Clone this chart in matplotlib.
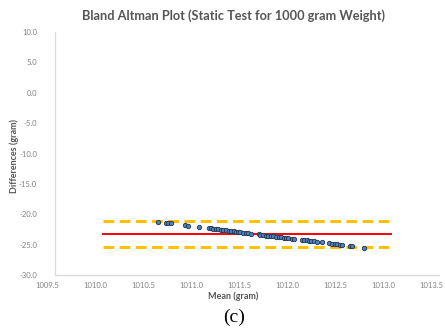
import matplotlib
matplotlib.use("Agg")
import matplotlib.pyplot as plt
from matplotlib.transforms import ScaledTranslation

# Bland-Altman data
mean_vals = [1010.57, 1010.66, 1010.68, 1010.71, 1010.85, 1010.89, 1011.00,
             1011.10, 1011.12, 1011.15, 1011.18, 1011.20, 1011.23, 1011.25,
             1011.28, 1011.31, 1011.33, 1011.36, 1011.39, 1011.41, 1011.43,
             1011.46, 1011.49, 1011.51, 1011.54, 1011.62, 1011.64, 1011.67,
             1011.70, 1011.72, 1011.75, 1011.77, 1011.80, 1011.83, 1011.85,
             1011.88, 1011.91, 1011.93, 1011.97, 1011.99, 1012.07, 1012.09,
             1012.12, 1012.15, 1012.17, 1012.20, 1012.23, 1012.28, 1012.35,
             1012.38, 1012.42, 1012.44, 1012.47, 1012.49, 1012.57, 1012.59,
             1012.72]
diff_vals = [-21.20, -21.38, -21.43, -21.49, -21.77, -21.86, -22.05,
             -22.25, -22.30, -22.36, -22.42, -22.47, -22.53, -22.58,
             -22.64, -22.70, -22.74, -22.80, -22.86, -22.90, -22.94,
             -23.00, -23.06, -23.10, -23.16, -23.32, -23.37, -23.43,
             -23.49, -23.54, -23.60, -23.64, -23.70, -23.76, -23.80,
             -23.86, -23.92, -23.96, -24.04, -24.08, -24.15, -24.20,
             -24.27, -24.33, -24.38, -24.45, -24.50, -24.62, -24.75,
             -24.82, -24.90, -24.95, -25.00, -25.05, -25.20, -25.25,
             -25.55]

bias = -23.25
upper_loa = -21.05
lower_loa = -25.45
line_x = [1010.0, 1013.0]

x_ticks = [1009.5, 1010.0, 1010.5, 1011.0, 1011.5, 1012.0, 1012.5, 1013.0, 1013.5]
y_ticks = [-30.0, -25.0, -20.0, -15.0, -10.0, -5.0, 0.0, 5.0, 10.0]

plt.rcParams['font.family'] = ['Lato', 'DejaVu Sans']

fig = plt.figure(figsize=(4.45, 3.31), dpi=100)
ax = fig.add_axes([0.1236, 0.169, 0.863, 0.734])

ax.plot(line_x, [upper_loa, upper_loa], color='#ffc000', lw=2.2, ls=(0, (3.5, 1.8)))
ax.plot(line_x, [lower_loa, lower_loa], color='#ffc000', lw=2.2, ls=(0, (3.5, 1.8)))
ax.plot(line_x, [bias, bias], color='#ff0000', lw=1.4)
ax.scatter(mean_vals, diff_vals, s=10, color='#4f81bd', edgecolors='#1f3550',
           linewidths=0.6, zorder=3)

ax.set_xlim(1009.5, 1013.5)
ax.set_ylim(-30, 10)
ax.set_xticks(x_ticks)
ax.set_yticks(y_ticks)
ax.set_xticklabels([f"{v:.1f}" for v in x_ticks])
ax.set_yticklabels([f"{v:.1f}" for v in y_ticks])
ax.tick_params(length=0, labelsize=5.5, labelcolor='#808080')
ax.tick_params(axis='y', pad=13)
ax.tick_params(axis='x', pad=5)

# Excel puts the category labels a little left of their ticks
shift = ScaledTranslation(-8 / 100, 0, fig.dpi_scale_trans)
for lbl in ax.get_xticklabels():
    lbl.set_transform(lbl.get_transform() + shift)

for side in ['top', 'right']:
    ax.spines[side].set_visible(False)
for side in ['left', 'bottom']:
    ax.spines[side].set_color('#d9d9d9')
    ax.spines[side].set_linewidth(0.9)

fig.text(0.525, 0.953, "Bland Altman Plot (Static Test for 1000 gram Weight)",
         ha='center', va='center', fontsize=9.2, fontweight='bold', color='#555555')
fig.text(0.525, 0.105, "Mean (gram)", ha='center', va='center',
         fontsize=6.5, fontweight='bold', color='#555555')
fig.text(0.032, 0.53, "Differences (gram)", ha='center', va='center', rotation=90,
         fontsize=6.5, fontweight='bold', color='#555555')
fig.text(0.525, 0.04, "(c)", ha='center', va='center', fontsize=14,
         family=['Liberation Serif', 'DejaVu Serif'], color='black')

fig.savefig("out.png", dpi=100)
